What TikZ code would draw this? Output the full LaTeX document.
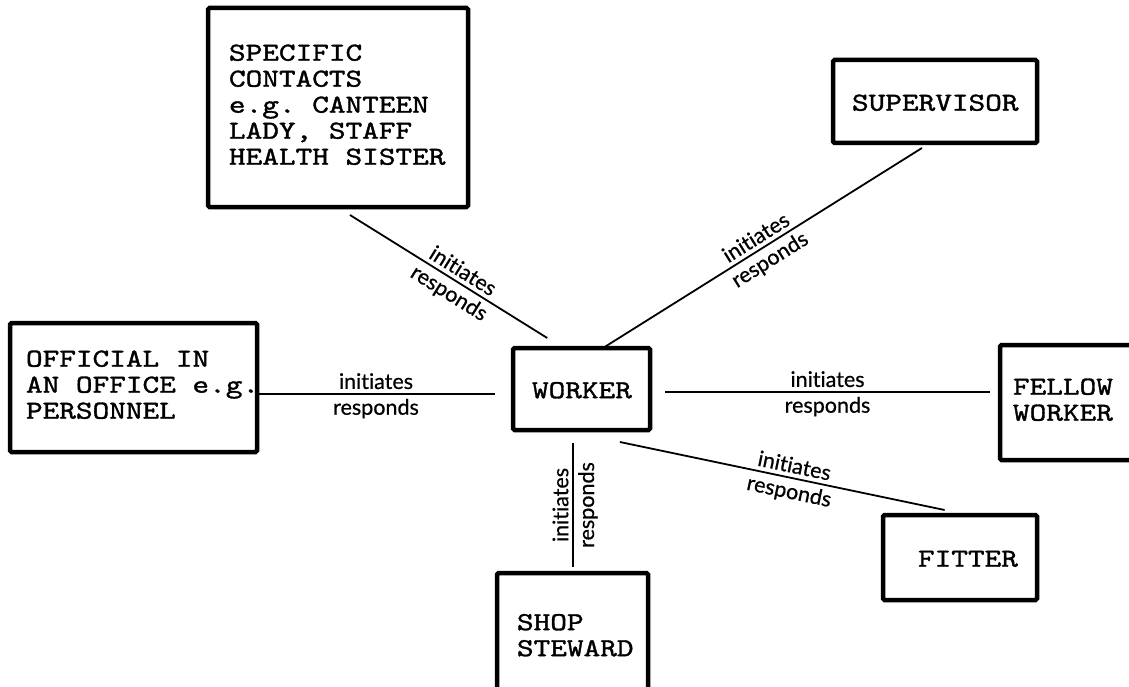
\documentclass[tikz,border=0pt]{standalone}
\usepackage{fontspec}
\usepackage{graphicx}
\newfontfamily\labfont{Lato}[FakeBold=0.6,Ligatures=NoCommon]
\newfontfamily\boxfont{lmmono10-regular.otf}[FakeBold=1.2]
\usetikzlibrary{calc}
\newcommand{\ts}{\hspace*{0.525em}}
\newcommand{\btext}[1]{\scalebox{1.22}[1]{\fontsize{26}{26}\selectfont\boxfont\begin{tabular}{@{}l@{}}#1\end{tabular}}}
\newcommand{\btextl}[1]{\raisebox{-4pt}[\height][\depth]{\btext{#1}}}
\tikzset{
  box/.style={draw, line width=4.5pt, rounded corners=1.5pt, inner sep=0pt, outer sep=0pt, anchor=north west, align=left},
  conn/.style={line width=1.8pt},
  lab/.style={font=\labfont\fontsize{21.5}{21.5}\selectfont, sloped, inner sep=4pt}
}
\begin{document}
\begin{tikzpicture}[x=1pt,y=-1pt]
\useasboundingbox (0,0) rectangle (1129,687);
\clip (0,0) rectangle (1129,687);
% boxes
\node[box, text width=260pt, minimum height=199pt] (spec) at (208,8)
  {\hspace*{21pt}\btext{SPECIFIC\\CONTACTS\\e.g.\ts CANTEEN\\LADY,\ts STAFF\\HEALTH\ts SISTER}};
\node[box, text width=204pt, minimum height=83pt] (sup) at (833,60)
  {\hspace*{19pt}\btextl{SUPERVISOR}};
\node[box, text width=247pt, minimum height=129pt] (official) at (10,323)
  {\hspace*{16pt}\btext{OFFICIAL\ts IN\\AN\ts OFFICE\ts e.g.\\PERSONNEL}};
\node[box, text width=137pt, minimum height=82pt] (worker) at (513,348)
  {\hspace*{19pt}\btextl{WORKER}};
\node[box, text width=160pt, minimum height=115pt] (fellow) at (1000,345)
  {\hspace*{13pt}\btext{FELLOW\\WORKER}};
\node[box, text width=154pt, minimum height=85pt] (fitter) at (883,515)
  {\hspace*{35pt}\btextl{FITTER}};
\node[box, text width=151pt, minimum height=130pt] (shop) at (497,573)
  {\hspace*{20pt}\btext{SHOP\\STEWARD}};
% helper points
\coordinate (ow) at ($(worker.west)+(-18,5)$);
\coordinate (fw) at ($(worker.east)+(15,3)$);
\coordinate (sw) at ($(worker.south west)!0.44!(worker.south east)+(0,13)$);
% connectors
\draw[conn] ($(spec.south west)!0.546!(spec.south east)+(0,8)$) -- ($(worker.north west)!0.25!(worker.north east)+(0,-10)$)
  node[lab, above, pos=0.54] {initiates} node[lab, below, pos=0.54] {responds};
\draw[conn] ($(worker.north west)!0.657!(worker.north east)$) -- ($(sup.south west)!0.436!(sup.south east)+(0,5)$)
  node[lab, above, pos=0.5] {initiates} node[lab, below, pos=0.5] {responds};
\draw[conn] (official.east |- ow) -- (ow)
  node[lab, above, midway] {initiates} node[lab, below, midway] {responds};
\draw[conn] (fw) -- ($(fellow.west |- fw)+(-10,0)$)
  node[lab, above, midway] {initiates} node[lab, below, midway] {responds};
\draw[conn] ($(worker.south west)!0.78!(worker.south east)+(0,12)$) -- ($(fitter.north west)!0.40!(fitter.north east)+(0,-5)$)
  node[lab, above, pos=0.53] {initiates} node[lab, below, pos=0.53] {responds};
\draw[conn] ($(shop.north -| sw)+(0,-6)$) -- (sw)
  node[lab, above, midway] {initiates} node[lab, below, midway] {responds};
\end{tikzpicture}
\end{document}
